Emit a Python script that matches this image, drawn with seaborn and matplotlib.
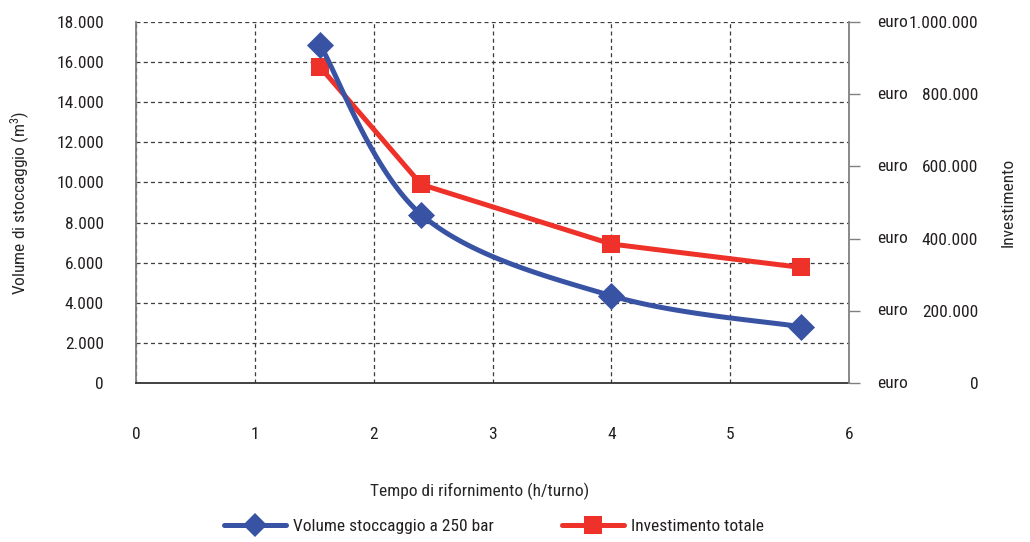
import numpy as np
import pandas as pd
import seaborn as sns
import matplotlib
matplotlib.use("Agg")
import matplotlib.pyplot as plt
from matplotlib import font_manager
from matplotlib.lines import Line2D

# Refuelling time (h/shift) against storage volume and total investment
tempo = [1.55, 2.4, 4.0, 5.6]
volume = [16850, 8400, 4350, 2800]
investimento = [875000, 550000, 385000, 320000]

x_ticks = [0, 1, 2, 3, 4, 5, 6]
vol_ticks = [0, 2000, 4000, 6000, 8000, 10000, 12000, 14000, 16000, 18000]
vol_labels = ["0", "2.000", "4.000", "6.000", "8.000", "10.000", "12.000",
              "14.000", "16.000", "18.000"]
inv_ticks = [0, 200000, 400000, 600000, 800000, 1000000]
inv_labels = ["0", "200.000", "400.000", "600.000", "800.000", "1.000.000"]

x_title = "Tempo di rifornimento (h/turno)"
y_title = "Volume di stoccaggio (m$^3$)"
y2_title = "Investimento"
serie_vol = "Volume stoccaggio a 250 bar"
serie_inv = "Investimento totale"

BLUE = "#3953a4"
RED = "#ee3129"
TEXT = "#231f20"

sns.set_style("white")

# pick the narrowest sans family available
fonts = font_manager.fontManager.ttflist
names = {f.name for f in fonts}
family, stretch = "DejaVu Sans", "normal"
for cand in ["Roboto Condensed", "Liberation Sans Narrow", "Open Sans Condensed"]:
    if cand in names:
        family = cand
        break
else:
    if any(f.name == "DejaVu Sans" and str(f.stretch) in ("condensed", "semi-condensed")
           for f in fonts):
        stretch = "condensed"
plt.rcParams["font.family"] = [family, "DejaVu Sans"]
plt.rcParams["font.stretch"] = stretch
plt.rcParams["text.color"] = TEXT
plt.rcParams["mathtext.default"] = "regular"

FS = 12.5


def smooth(xs, ys, n=40):
    """Spreadsheet-style smoothed line: cubic Bezier through the points."""
    p = np.column_stack([xs, ys]).astype(float)
    out = []
    for i in range(len(p) - 1):
        p0 = p[i - 1] if i > 0 else p[i]
        p1, p2 = p[i], p[i + 1]
        p3 = p[i + 2] if i + 2 < len(p) else p[i + 1]
        c1 = p1 + (p2 - p0) / 6.0
        c2 = p2 - (p3 - p1) / 6.0
        t = np.linspace(0, 1, n)[:, None]
        seg = ((1 - t) ** 3) * p1 + 3 * ((1 - t) ** 2) * t * c1 \
            + 3 * (1 - t) * t ** 2 * c2 + t ** 3 * p2
        out.append(seg if i == 0 else seg[1:])
    seg = np.vstack(out)
    return seg[:, 0], seg[:, 1]


fig = plt.figure(figsize=(10.30, 5.42), dpi=100)
left, right, top, bottom = 136 / 1030, 849 / 1030, 1 - 22 / 542, 1 - 383 / 542
ax = fig.add_axes([left, bottom, right - left, top - bottom])
ax2 = ax.twinx()
ax3 = ax.twinx()

# base axis: grid and volume scale
ax.set_xlim(0, 6)
ax.set_ylim(0, 18000)
ax.set_xticks(x_ticks)
ax.set_xticklabels([str(v) for v in x_ticks], fontsize=FS)
ax.set_yticks(vol_ticks)
ax.set_yticklabels(vol_labels, fontsize=FS)
ax.grid(True, linestyle=(0, (3.2, 2.6)), color="#3c3c3c", linewidth=0.9)
ax.set_axisbelow(True)
ax.tick_params(axis="x", length=0, pad=32, colors=TEXT)
ax.tick_params(axis="y", length=0, pad=23, colors=TEXT)
for s in ["top", "right"]:
    ax.spines[s].set_visible(False)
ax.spines["left"].set_color("#808080")
ax.spines["left"].set_linewidth(1.3)
ax.spines["bottom"].set_color("#333333")
ax.spines["bottom"].set_linewidth(1.3)
ax.set_xlabel(x_title, fontsize=12.5)
ax.xaxis.set_label_coords(0.482, -0.275)
ax.set_ylabel(y_title, fontsize=FS, va="center")
ax.yaxis.set_label_coords(-0.163, 0.5)

# investment on the right axis
ax2.set_ylim(0, 1000000)
ax2.set_yticks(inv_ticks)
ax2.set_yticklabels(inv_labels, fontsize=FS)
for lab in ax2.get_yticklabels():
    lab.set_horizontalalignment("right")
ax2.tick_params(axis="y", length=8, width=1, color="#808080", pad=85, colors=TEXT)
ax2.tick_params(axis="y", color="#808080")
for s in ["top", "left", "bottom"]:
    ax2.spines[s].set_visible(False)
ax2.spines["right"].set_color("#808080")
ax2.spines["right"].set_linewidth(1.3)
for v in inv_ticks:
    ax2.annotate("euro", xy=(1, v), xycoords=("axes fraction", "data"),
                 xytext=(20.5, 0), textcoords="offset points",
                 ha="left", va="center", fontsize=FS, color=TEXT)
ax2.set_ylabel(y2_title, fontsize=FS, rotation=90, va="center")
ax2.yaxis.set_label_coords(1.223, 0.5)

sns.lineplot(x=tempo, y=investimento, ax=ax2, color=RED, linewidth=3.6,
             marker="s", markersize=13.5, markeredgewidth=0)
ax2.set_xlim(0, 6)

# storage volume, smoothed, drawn on top
ax3.set_ylim(0, 18000)
ax3.set_xlim(0, 6)
ax3.axis("off")
cx, cy = smooth(tempo, volume)
sns.lineplot(x=cx, y=cy, ax=ax3, color=BLUE, linewidth=3.6, sort=False,
             estimator=None)
sns.scatterplot(x=tempo, y=volume, ax=ax3, color=BLUE, marker="D", s=190,
                linewidth=0, zorder=5)
ax3.set_ylim(0, 18000)
ax3.set_xlim(0, 6)

handles = [
    Line2D([], [], color=BLUE, linewidth=3.6, marker="D", markersize=12.5,
           markeredgewidth=0),
    Line2D([], [], color=RED, linewidth=3.6, marker="s", markersize=13.5,
           markeredgewidth=0),
]
fig.legend(handles, [serie_vol, serie_inv], loc="center",
           bbox_to_anchor=(494 / 1030, 1 - 526 / 542), ncol=2, frameon=False,
           fontsize=FS, handlelength=3.6, handletextpad=0.4, columnspacing=3.9)

fig.savefig("out.png", dpi=100)
